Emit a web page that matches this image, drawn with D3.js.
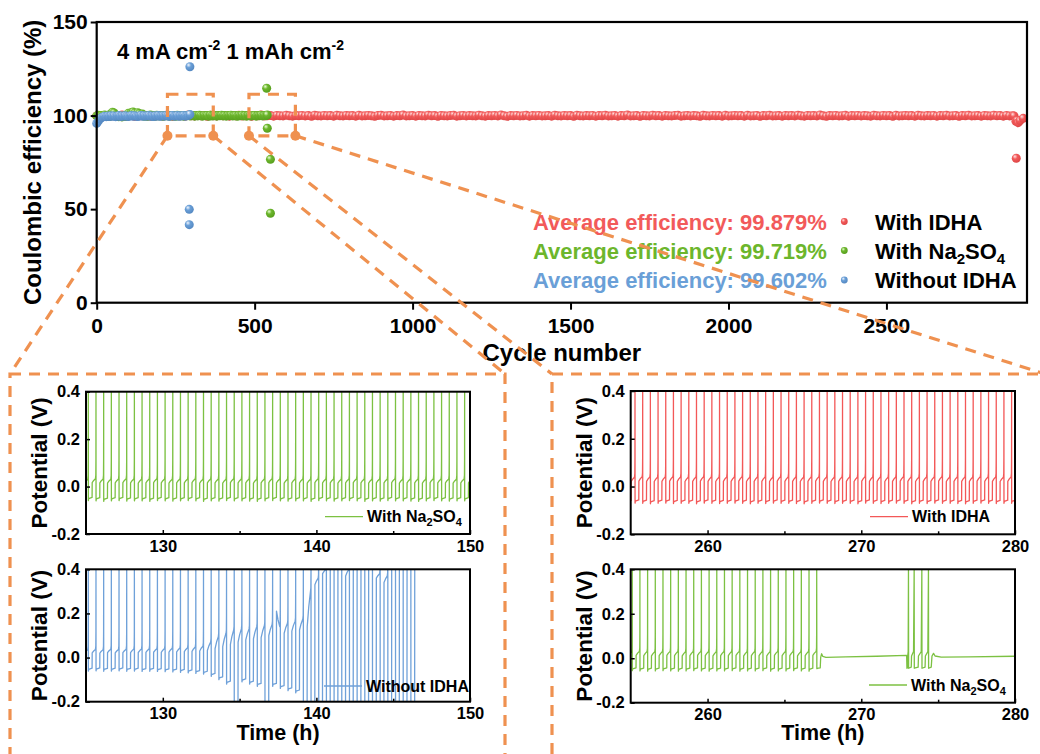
<!DOCTYPE html>
<html>
<head>
<meta charset="utf-8">
<script src="https://cdn.jsdelivr.net/npm/d3@7"></script>
<style>
  html, body { margin: 0; padding: 0; background: #fff; }
  svg { display: block; font-family: "Liberation Sans", Arial, sans-serif; font-weight: bold; }
</style>
</head>
<body>
<svg id="fig" width="1040" height="754"></svg>
<script>
// ---------------- Coulombic efficiency vs cycle number ----------------
const ceTicksX = [0, 500, 1000, 1500, 2000, 2500];
const ceTicksY = [0, 50, 100, 150];
const seriesNames = ["With IDHA", "With Na2SO4", "Without IDHA"];
const avgEfficiency = ["99.879%", "99.719%", "99.602%"];

// With IDHA: one reading every 10 cycles, cycles 0-2900
const ceIdhaStep = 10;
const ceIdha = [
  99.8,100.1,99.9,99.6,100.2,99.9,100.0,99.7,100.3,99.8,99.9,100.1,99.6,100.0,99.9,100.2,99.8,99.7,100.1,99.9,
  100.0,99.8,100.2,99.9,99.6,100.1,99.9,100.0,99.7,100.3,99.9,99.8,100.1,99.9,100.0,99.6,100.2,99.9,99.8,100.0,
  99.9,100.1,99.7,100.0,99.9,100.2,99.8,99.9,100.1,99.6,100.0,99.9,100.3,99.8,99.9,100.0,99.7,100.1,99.9,99.8,
  100.2,99.9,99.7,100.0,99.9,100.1,99.8,100.0,99.6,100.2,99.9,99.8,100.1,99.9,100.0,99.7,100.2,99.9,99.8,100.1,
  99.9,100.0,99.7,100.2,99.8,99.9,100.1,99.9,99.6,100.0,100.2,99.8,99.9,100.1,99.7,100.0,99.9,100.3,99.8,99.9,
  100.0,99.7,100.1,99.9,99.8,100.2,99.9,100.0,99.6,100.1,99.9,99.8,100.0,100.2,99.7,99.9,100.1,99.8,100.0,99.9,
  99.8,100.2,99.9,99.7,100.0,99.9,100.1,99.8,100.3,99.9,99.6,100.0,99.9,100.1,99.8,99.9,100.2,99.7,100.0,99.9,
  100.1,99.8,99.9,100.0,99.7,100.2,99.9,99.8,100.1,99.9,100.0,99.6,100.2,99.9,99.8,100.0,99.9,100.1,99.7,100.0,
  99.9,100.2,99.8,99.9,100.1,99.7,100.0,99.9,100.3,99.8,99.9,100.0,99.6,100.1,99.9,99.8,100.2,99.9,100.0,99.7,
  100.1,99.9,99.8,100.0,100.2,99.7,99.9,100.1,99.8,100.0,99.9,99.6,100.2,99.9,99.8,100.1,99.9,100.0,99.7,100.2,
  99.8,99.9,100.1,99.9,100.0,99.7,100.2,99.8,99.9,100.1,99.6,100.0,99.9,100.2,99.8,99.9,100.0,99.7,100.1,99.9,
  100.0,99.8,100.2,99.9,99.7,100.1,99.9,100.0,99.8,100.3,99.9,99.6,100.0,99.9,100.1,99.8,99.9,100.2,99.7,100.0,
  99.9,100.1,99.8,100.0,99.9,99.7,100.2,99.9,99.8,100.1,99.9,100.0,99.6,100.2,99.8,99.9,100.1,99.9,100.0,99.7,
  100.2,99.9,99.8,100.0,99.9,100.1,99.7,100.0,99.9,100.2,99.8,99.9,100.1,99.6,100.0,99.9,100.2,99.8,99.9,100.0,
  99.7,100.1,99.9,99.8,100.2,99.9,100.0,99.7,100.1,99.8,99.9
];
const ceIdhaTail = [[2904, 99.8], [2910, 96.9], [2911, 77.2], [2914, 97.4], [2917, 96.2], [2923, 97.3], [2933, 98.5]];

// With Na2SO4: one reading every 5 cycles, cycles 0-540
const ceNaStep = 5;
const ceNa = [
  99.8,100.2,99.6,100.0,99.9,100.3,99.7,100.1,99.5,101.0,101.8,101.4,100.2,99.6,99.4,99.8,99.3,99.7,100.0,99.5,
  101.2,100.6,101.6,101.9,101.3,100.4,101.5,101.0,100.2,100.8,99.7,100.1,99.6,99.9,100.3,99.8,100.0,99.7,100.2,99.9,
  99.8,100.1,99.6,100.0,99.9,100.2,99.7,100.1,99.8,100.0,99.6,100.2,99.9,99.8,100.1,99.7,100.0,99.9,100.2,99.8,
  99.9,100.1,99.7,100.0,99.8,100.2,99.9,99.7,100.1,99.9,100.0,99.6,100.2,99.8,99.9,100.1,99.7,100.0,99.9,100.2,
  99.8,100.0,99.7,100.1,99.9,100.2,99.8,99.9,100.0,99.6,100.1,99.9,100.2,99.8,100.0,99.7,100.1,99.9,99.8,100.0,
  100.1,99.7,100.0,99.9,100.2,99.8,100.0,99.9,100.3
];
const ceNaOutliers = [[538, 114.6], [540, 93.2], [550, 76.6], [550, 47.8]];

// Without IDHA: one reading every 5 cycles, cycles 0-295
const ceNoStep = 5;
const ceNo = [
  95.8,97.0,98.2,98.9,99.3,99.6,99.4,99.8,99.5,99.9,99.6,99.8,99.4,99.7,100.0,99.5,99.8,99.6,99.9,99.7,
  99.5,99.8,100.0,99.6,99.9,99.7,99.5,99.8,100.1,99.6,99.9,99.7,99.8,100.0,99.6,99.8,99.5,99.9,99.7,100.0,
  99.6,99.8,99.9,99.7,100.0,99.8,99.6,99.9,100.1,99.7,99.8,100.0,99.6,99.9,99.8,100.1,99.7,99.9,100.0,100.6
];
const ceNoOutliers = [[295, 126.1], [293, 49.9], [293, 41.7]];

// ---------------- Voltage profiles (Zn plating / stripping) ----------------
const cycleHours = 0.5;   // 1 mAh cm-2 at 4 mA cm-2: 0.25 h plating + 0.25 h stripping
const cutoffV = 0.4;
const voltTicks = [-0.2, 0.0, 0.2, 0.4];
const timeTicksA = [130, 140, 150];
const timeMinorA = [135, 145];
const timeTicksB = [260, 270, 280];
const timeMinorB = [265, 275];

// With Na2SO4, 125-150 h (first cycle ends at 124.65 h)
const naA_firstEnd = 124.65;
const naA_plate = [
  -0.050,-0.051,-0.049,-0.050,-0.052,-0.050,-0.049,-0.051,-0.050,-0.050,
  -0.052,-0.049,-0.050,-0.051,-0.050,-0.049,-0.050,-0.052,-0.050,-0.051,
  -0.049,-0.050,-0.050,-0.051,-0.052,-0.050,-0.049,-0.050,-0.051,-0.050,
  -0.050,-0.052,-0.049,-0.050,-0.051,-0.050,-0.049,-0.050,-0.052,-0.050,
  -0.051,-0.049,-0.050,-0.050,-0.051,-0.052,-0.050,-0.049,-0.050,-0.051,
  -0.050,-0.050];
const naA_stripA = [
  0.016,0.015,0.017,0.016,0.015,0.016,0.017,0.016,0.015,0.016,
  0.017,0.016,0.015,0.016,0.016,0.017,0.015,0.016,0.016,0.015,
  0.017,0.016,0.016,0.015,0.016,0.017,0.016,0.015,0.016,0.016,
  0.015,0.017,0.016,0.016,0.015,0.016,0.017,0.016,0.015,0.016,
  0.016,0.017,0.015,0.016,0.016,0.015,0.017,0.016,0.016,0.015,
  0.016,0.016];
const naA_stripB = [
  0.032,0.031,0.033,0.032,0.031,0.032,0.033,0.032,0.031,0.032,
  0.033,0.032,0.031,0.032,0.032,0.033,0.031,0.032,0.032,0.031,
  0.033,0.032,0.032,0.031,0.032,0.033,0.032,0.031,0.032,0.032,
  0.031,0.033,0.032,0.032,0.031,0.032,0.033,0.032,0.031,0.032,
  0.032,0.033,0.031,0.032,0.032,0.031,0.033,0.032,0.032,0.031,
  0.032,0.032];

// Without IDHA, 125-146.5 h
const noA_firstEnd = 124.65;
const noA_end = 146.52;
const noA_plate = [
  -0.050,-0.050,-0.051,-0.050,-0.052,-0.051,-0.050,-0.052,-0.051,-0.053,
  -0.052,-0.053,-0.054,-0.055,-0.057,-0.059,-0.062,-0.065,-0.075,-0.090,
  -0.110,-0.240,-0.100,-0.110,-0.120,-0.240,-0.120,-0.130,-0.140,-0.150,
  -0.250,-0.300,-0.300,-0.300,-0.300,-0.300,-0.300,-0.300,-0.300,-0.300,
  -0.300,-0.300,-0.300,-0.300,-0.300];
const noA_stripA = [
  0.020,0.020,0.021,0.020,0.022,0.021,0.022,0.022,0.023,0.023,
  0.024,0.024,0.025,0.026,0.027,0.028,0.030,0.032,0.040,0.050,
  0.060,0.070,0.080,0.085,0.090,0.100,0.210,0.110,0.120,0.125,
  0.140,0.330,0.380,0.400,0.400,0.370,0.400,0.400,0.400,0.360,
  0.340,0.400,0.400,0.400,0.400];
const noA_stripB = [
  0.036,0.036,0.037,0.036,0.038,0.037,0.038,0.039,0.039,0.040,
  0.040,0.041,0.042,0.043,0.045,0.048,0.052,0.070,0.095,0.110,
  0.125,0.130,0.130,0.140,0.145,0.150,0.140,0.155,0.165,0.175,
  0.300,0.360,0.400,0.400,0.400,0.400,0.400,0.400,0.400,0.380,
  0.370,0.400,0.400,0.400,0.400];

// With IDHA, 255-280 h
const idB_firstEnd = 254.78;
const idB_plate = [
  -0.060,-0.061,-0.059,-0.060,-0.062,-0.060,-0.059,-0.061,-0.060,-0.060,
  -0.062,-0.059,-0.060,-0.061,-0.060,-0.059,-0.060,-0.062,-0.060,-0.061,
  -0.059,-0.060,-0.060,-0.061,-0.062,-0.060,-0.059,-0.060,-0.061,-0.060,
  -0.060,-0.062,-0.059,-0.060,-0.061,-0.060,-0.059,-0.060,-0.062,-0.060,
  -0.061,-0.059,-0.060,-0.060,-0.061,-0.062,-0.060,-0.059,-0.060,-0.061,
  -0.060,-0.060];
const idB_stripA = [
  0.022,0.021,0.023,0.022,0.021,0.022,0.023,0.022,0.021,0.022,
  0.023,0.022,0.021,0.022,0.022,0.023,0.021,0.022,0.022,0.021,
  0.023,0.022,0.022,0.021,0.022,0.023,0.022,0.021,0.022,0.022,
  0.021,0.023,0.022,0.022,0.021,0.022,0.023,0.022,0.021,0.022,
  0.022,0.023,0.021,0.022,0.022,0.021,0.023,0.022,0.022,0.021,
  0.022,0.022];
const idB_stripB = [
  0.040,0.039,0.041,0.040,0.039,0.040,0.041,0.040,0.039,0.040,
  0.041,0.040,0.039,0.040,0.040,0.041,0.039,0.040,0.040,0.039,
  0.041,0.040,0.040,0.039,0.040,0.041,0.040,0.039,0.040,0.040,
  0.039,0.041,0.040,0.040,0.039,0.040,0.041,0.040,0.039,0.040,
  0.040,0.041,0.039,0.040,0.040,0.039,0.041,0.040,0.040,0.039,
  0.040,0.040];

// With Na2SO4, 255-280 h: regular cycles up to 267.1 h, then the soft-short region
const naB_firstEnd = 254.6;
const naB_plate = [
  -0.047,-0.048,-0.046,-0.047,-0.048,-0.047,-0.046,-0.047,-0.048,-0.047,
  -0.046,-0.047,-0.048,-0.047,-0.047,-0.046,-0.048,-0.047,-0.047,-0.046,
  -0.048,-0.047,-0.047,-0.046,-0.047,-0.048];
const naB_stripA = [
  0.012,0.011,0.013,0.012,0.011,0.012,0.013,0.012,0.011,0.012,
  0.013,0.012,0.011,0.012,0.012,0.013,0.011,0.012,0.012,0.011,
  0.013,0.012,0.012,0.011,0.012,0.013];
const naB_stripB = [
  0.030,0.029,0.031,0.030,0.029,0.030,0.031,0.030,0.029,0.030,
  0.031,0.030,0.029,0.030,0.030,0.031,0.029,0.030,0.030,0.029,
  0.031,0.030,0.030,0.029,0.030,0.031];
const naB_tail = [
  [267.11,-0.047],[267.2,-0.045],[267.33,-0.043],[267.36,0.004],[267.42,0.020],[267.5,0.008],
  [267.7,0.004],[269.0,0.006],[271.0,0.009],[272.95,0.013],
  [272.97,-0.045],[273.0,-0.043],[273.02,0.010],[273.05,0.030],[273.07,0.4],
  [273.08,-0.045],[273.25,-0.040],[273.27,0.010],[273.4,0.030],[273.44,0.4],
  [273.45,-0.045],[273.7,-0.040],[273.72,0.010],[273.9,0.030],[273.94,0.4],
  [273.95,-0.045],[274.15,-0.040],[274.17,0.010],[274.33,0.030],[274.37,0.4],
  [274.38,-0.045],[274.55,-0.040],[274.6,0.010],[274.7,0.022],[274.8,0.010],
  [275.2,0.005],[277.0,0.006],[280.0,0.009]
];

// ---------------- drawing ----------------
const colIdha = "#f25a5a", colNa = "#6cb62c", colNo = "#6a9fd7", colZoom = "#ef9150";
const lineIdha = "#f35858", lineNa = "#7cc142", lineNo = "#6fa1d9";
const FONT = "Liberation Sans, Arial, sans-serif";

const svg = d3.select("#fig");
const defs = svg.append("defs");

function ballGradient(id, light, mid, dark) {
  const g = defs.append("radialGradient").attr("id", id)
    .attr("cx", "40%").attr("cy", "36%").attr("r", "68%").attr("fx", "34%").attr("fy", "30%");
  g.append("stop").attr("offset", "0%").attr("stop-color", light);
  g.append("stop").attr("offset", "40%").attr("stop-color", mid);
  g.append("stop").attr("offset", "100%").attr("stop-color", dark);
}
ballGradient("ballIdha", "#ffe3e3", colIdha, "#dc4444");
ballGradient("ballNa", "#eaffd6", colNa, "#559c1c");
ballGradient("ballNo", "#f0f6ff", colNo, "#5286c0");

// main panel
const xCE = d3.scaleLinear().domain([0, 2945]).range([96.7, 1027]);
const yCE = d3.scaleLinear().domain([0, 150]).range([302.7, 22]);
const main = svg.append("g");

const ceSeries = [
  { vals: ceIdha, step: ceIdhaStep, extra: ceIdhaTail, fill: "url(#ballIdha)" },
  { vals: ceNa, step: ceNaStep, extra: ceNaOutliers, fill: "url(#ballNa)" },
  { vals: ceNo, step: ceNoStep, extra: ceNoOutliers, fill: "url(#ballNo)" }
];
ceSeries.forEach(s => {
  const pts = s.vals.map((v, i) => [i * s.step, v]).concat(s.extra);
  main.append("g").selectAll("circle").data(pts).join("circle")
    .attr("cx", d => xCE(d[0])).attr("cy", d => yCE(d[1])).attr("r", 4.5)
    .attr("fill", s.fill);
});

const axY = main.append("g").attr("transform", `translate(${xCE(0)},0)`)
  .call(d3.axisLeft(yCE).tickValues(ceTicksY).tickFormat(d3.format("d")).tickSize(6).tickPadding(3));
const axX = main.append("g").attr("transform", `translate(0,${yCE(0)})`)
  .call(d3.axisBottom(xCE).tickValues(ceTicksX).tickFormat(d3.format("d")).tickSize(7).tickPadding(8));
[axY, axX].forEach(a => {
  a.select(".domain").remove();
  a.selectAll("line").attr("stroke", "#000").attr("stroke-width", 2);
  a.selectAll("text").attr("font-size", 21).attr("fill", "#000")
    .attr("font-family", FONT).attr("font-weight", "bold");
});
main.append("rect").attr("x", xCE(0)).attr("y", yCE(150))
  .attr("width", xCE(2945) - xCE(0)).attr("height", yCE(0) - yCE(150))
  .attr("fill", "none").attr("stroke", "#000").attr("stroke-width", 2.2);

main.append("text").attr("transform", `translate(41,${(yCE(0) + yCE(150)) / 2}) rotate(-90)`)
  .attr("text-anchor", "middle").attr("font-size", 24).text("Coulombic efficiency (%)");
main.append("text").attr("x", (xCE(0) + xCE(2945)) / 2).attr("y", 361)
  .attr("text-anchor", "middle").attr("font-size", 24).text("Cycle number");

const title = main.append("text").attr("x", 117).attr("y", 59).attr("font-size", 22);
title.append("tspan").text("4 mA cm");
title.append("tspan").attr("dy", -9).attr("font-size", 14).text("-2");
title.append("tspan").attr("dy", 9).text(" 1 mAh cm");
title.append("tspan").attr("dy", -9).attr("font-size", 14).text("-2");

// legend
const legCols = [colIdha, colNa, colNo];
const legFills = ["url(#ballIdha)", "url(#ballNa)", "url(#ballNo)"];
const legRows = [221.5, 250.5, 280];
seriesNames.forEach((name, i) => {
  const cy = legRows[i];
  main.append("text").attr("x", 533).attr("y", cy + 8).attr("font-size", 22)
    .attr("fill", legCols[i]).text("Average efficiency: " + avgEfficiency[i]);
  main.append("circle").attr("cx", 844.3).attr("cy", cy).attr("r", 3.4).attr("fill", legFills[i]);
  const t = main.append("text").attr("x", 875).attr("y", cy + 8).attr("font-size", 22).attr("fill", "#000");
  if (name === "With Na2SO4") {
    t.append("tspan").text("With Na");
    t.append("tspan").attr("dy", 5).attr("font-size", 15).text("2");
    t.append("tspan").attr("dy", -5).text("SO");
    t.append("tspan").attr("dy", 5).attr("font-size", 15).text("4");
  } else {
    t.text(name);
  }
});

// voltage profile panels
function cycleTrace(firstEnd, plate, stripA, stripB) {
  const pts = [];
  const h = cycleHours / 2;
  plate.forEach((p, i) => {
    const T = firstEnd + i * cycleHours, S = T - cycleHours;
    const a = stripA[i], b = stripB[i];
    pts.push(
      [S + 0.003, p - 0.01], [S + 0.025, p - 0.002], [S + h - 0.004, p + 0.003],
      [S + h + 0.002, a], [S + h + 0.1, a + 0.55 * (b - a)], [T - 0.035, b],
      [T - 0.012, b + 0.015], [T - 0.004, b + 0.08], [T, cutoffV]
    );
  });
  return pts;
}

let clipId = 0;
function voltagePanel(cfg) {
  const g = svg.append("g");
  const x = d3.scaleLinear().domain(cfg.domain).range([cfg.left, cfg.right]);
  const y = d3.scaleLinear().domain([-0.2, 0.4]).range([cfg.bottom, cfg.top]);
  const id = "clipV" + (clipId++);
  defs.append("clipPath").attr("id", id).append("rect")
    .attr("x", cfg.left).attr("y", cfg.top).attr("width", cfg.right - cfg.left).attr("height", cfg.bottom - cfg.top);

  g.append("path").datum(cfg.points).attr("clip-path", `url(#${id})`)
    .attr("fill", "none").attr("stroke", cfg.color).attr("stroke-width", 1.3).attr("stroke-linejoin", "round")
    .attr("d", d3.line().x(d => x(d[0])).y(d => y(d[1])));

  const ay = g.append("g").attr("transform", `translate(${cfg.left},0)`)
    .call(d3.axisLeft(y).tickValues(voltTicks).tickSize(-4).tickPadding(6));
  const ax = g.append("g").attr("transform", `translate(0,${cfg.bottom})`)
    .call(d3.axisBottom(x).tickValues(cfg.ticks).tickFormat(d3.format("d")).tickSize(-4).tickPadding(6));
  const axm = g.append("g").attr("transform", `translate(0,${cfg.bottom})`)
    .call(d3.axisBottom(x).tickValues(cfg.minor).tickSize(-3).tickFormat(""));
  [ay, ax, axm].forEach(a => {
    a.select(".domain").remove();
    a.selectAll("line").attr("stroke", "#000").attr("stroke-width", 1.5);
    a.selectAll("text").attr("font-size", 16.5).attr("fill", "#000")
      .attr("font-family", FONT).attr("font-weight", "bold");
  });
  ay.selectAll("text").text(d => d3.format(".1f")(d).replace("\u2212", "-"));

  g.append("rect").attr("x", cfg.left).attr("y", cfg.top)
    .attr("width", cfg.right - cfg.left).attr("height", cfg.bottom - cfg.top)
    .attr("fill", "none").attr("stroke", "#000").attr("stroke-width", 2);

  g.append("text").attr("transform", `translate(${cfg.left - 39},${(cfg.top + cfg.bottom) / 2}) rotate(-90)`)
    .attr("text-anchor", "middle").attr("font-size", 22.5).text("Potential (V)");
  if (cfg.timeTitle) {
    g.append("text").attr("x", (cfg.left + cfg.right) / 2).attr("y", 740)
      .attr("text-anchor", "middle").attr("font-size", 21.5).text("Time (h)");
  }

  // legend entry
  g.append("line").attr("x1", cfg.legX).attr("x2", cfg.legX + 38)
    .attr("y1", cfg.legY).attr("y2", cfg.legY).attr("stroke", cfg.color).attr("stroke-width", 1.3);
  const t = g.append("text").attr("x", cfg.legX + 42).attr("y", cfg.legY + 5.5).attr("font-size", 16);
  if (cfg.name === "With Na2SO4") {
    t.append("tspan").text("With Na");
    t.append("tspan").attr("dy", 4).attr("font-size", 11).text("2");
    t.append("tspan").attr("dy", -4).text("SO");
    t.append("tspan").attr("dy", 4).attr("font-size", 11).text("4");
  } else t.text(cfg.name);
}

voltagePanel({
  domain: [125, 150], left: 86, right: 470, top: 391.7, bottom: 534,
  ticks: timeTicksA, minor: timeMinorA, color: lineNa, name: "With Na2SO4",
  points: cycleTrace(naA_firstEnd, naA_plate, naA_stripA, naA_stripB),
  legX: 325, legY: 516.7, timeTitle: false
});
voltagePanel({
  domain: [125, 150], left: 86, right: 470, top: 569.3, bottom: 701.7,
  ticks: timeTicksA, minor: timeMinorA, color: lineNo, name: "Without IDHA",
  points: cycleTrace(noA_firstEnd, noA_plate, noA_stripA, noA_stripB).filter(d => d[0] <= noA_end),
  legX: 324, legY: 686, timeTitle: true
});
voltagePanel({
  domain: [255, 280], left: 630.7, right: 1015, top: 391, bottom: 534.3,
  ticks: timeTicksB, minor: timeMinorB, color: lineIdha, name: "With IDHA",
  points: cycleTrace(idB_firstEnd, idB_plate, idB_stripA, idB_stripB),
  legX: 870, legY: 516.7, timeTitle: false
});
voltagePanel({
  domain: [255, 280], left: 630.7, right: 1015, top: 569.3, bottom: 702.7,
  ticks: timeTicksB, minor: timeMinorB, color: lineNa, name: "With Na2SO4",
  points: cycleTrace(naB_firstEnd, naB_plate, naB_stripA, naB_stripB).concat(naB_tail),
  legX: 869, legY: 685, timeTitle: true
});

// zoom call-outs: dashed boxes on the cycle plot linked to the inset frames
const ann = svg.append("g").attr("fill", "none").attr("stroke", colZoom)
  .attr("stroke-width", 3.2).attr("stroke-dasharray", "11,8");
const boxes = [
  { c0: 224, c1: 369, to: [[10, 374], [505, 374]] },
  { c0: 482, c1: 629, to: [[552, 374], [1045, 374]] }
];
const ceLo = 89.2, ceHi = 111.4;
ann.append("rect").attr("x", 10).attr("y", 374).attr("width", 495).attr("height", 400);
ann.append("rect").attr("x", 552).attr("y", 374).attr("width", 493).attr("height", 400);
boxes.forEach(b => {
  const xa = xCE(b.c0), xb = xCE(b.c1), ya = yCE(ceHi), yb = yCE(ceLo);
  ann.append("rect").attr("x", xa).attr("y", ya).attr("width", xb - xa).attr("height", yb - ya);
  ann.append("line").attr("x1", xa).attr("y1", yb).attr("x2", b.to[0][0]).attr("y2", b.to[0][1]);
  ann.append("line").attr("x1", xb).attr("y1", yb).attr("x2", b.to[1][0]).attr("y2", b.to[1][1]);
  [xa, xb].forEach(cx => svg.append("circle").attr("cx", cx).attr("cy", yb).attr("r", 5).attr("fill", colZoom));
});
</script>
</body>
</html>
